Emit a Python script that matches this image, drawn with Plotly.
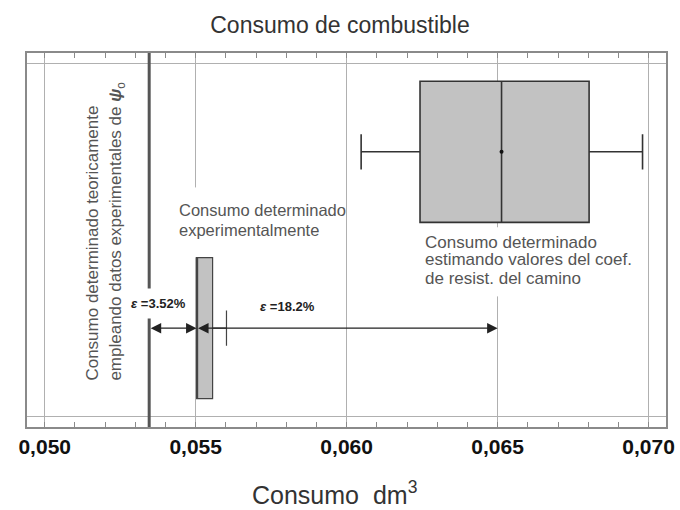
import plotly.graph_objects as go

# ---- data ----
tick_vals = [0.050, 0.055, 0.060, 0.065, 0.070]
tick_text = ["0,050", "0,055", "0,060", "0,065", "0,070"]

teorico = 0.05346                     # consumo teórico (línea vertical gruesa)

exp_q1 = [0.05503]                    # consumo experimental (caja pequeña)
exp_med = [0.05503]
exp_q3 = [0.05556]
exp_low = [0.05503]
exp_high = [0.05602]

est_q1 = [0.06243]                    # consumo estimado (caja grande)
est_med = [0.06513]
est_q3 = [0.06803]
est_low = [0.06048]
est_high = [0.06980]
est_mean = [0.06513]

err_end = 0.065
err_labels = ["<i>ε</i> =3.52%", "<i>ε</i> =18.2%"]

FONT = "Liberation Sans, Arial, sans-serif"
TXT = "#555555"

fig = go.Figure()

fig.add_trace(go.Scatter(x=[teorico, teorico], y=[-0.0303, 1.0301], mode="lines",
                         line=dict(color="#555555", width=3), hoverinfo="skip"))

fig.add_trace(go.Box(y=[0.75], q1=est_q1, median=est_med, q3=est_q3,
                     lowerfence=est_low, upperfence=est_high,
                     orientation="h", width=0.4, whiskerwidth=0.25,
                     fillcolor="#c2c2c2", line=dict(color="#333333", width=1.6)))
fig.add_trace(go.Box(y=[0.25], q1=exp_q1, median=exp_med, q3=exp_q3,
                     lowerfence=exp_low, upperfence=exp_high,
                     orientation="h", width=0.4, whiskerwidth=0.25,
                     fillcolor="#c2c2c2", line=dict(color="#444444", width=1.2)))
fig.add_trace(go.Scatter(x=est_mean, y=[0.75], mode="markers",
                         marker=dict(color="#111111", size=4), hoverinfo="skip"))

# white gaps in the gridlines behind the texts
fig.add_shape(type="rect", xref="x", yref="y", x0=0.0549, x1=0.0551, y0=0.451, y1=0.649,
              fillcolor="white", line=dict(width=0), layer="between")
fig.add_shape(type="rect", xref="x", yref="y", x0=0.0649, x1=0.0651, y0=0.34, y1=0.536,
              fillcolor="white", line=dict(width=0), layer="between")

# arrows
arrow_common = dict(text="", showarrow=True, axref="x", ayref="y", xref="x", yref="y",
                    arrowside="end+start", arrowhead=2, startarrowhead=2,
                    arrowsize=1.5, startarrowsize=1.5, arrowwidth=1.4, arrowcolor="#222222",
                    standoff=0, startstandoff=0)
fig.add_annotation(x=exp_q1[0], y=0.25, ax=teorico, ay=0.25, **arrow_common)
fig.add_annotation(x=err_end, y=0.25, ax=exp_q1[0], ay=0.25, **arrow_common)

# error labels
fig.add_annotation(x=0.053779, y=0.3204, text="<b>" + err_labels[0] + "</b>", showarrow=False,
                   font=dict(family=FONT, size=13, color="#222222"), bgcolor="white", borderpad=7)
fig.add_annotation(x=0.058056, y=0.3119, text="<b>" + err_labels[1] + "</b>", showarrow=False,
                   font=dict(family=FONT, size=13, color="#222222"))

# rotated text
fig.add_annotation(x=0.051591, y=0.0964, text="Consumo determinado teoricamente", textangle=-90,
                   showarrow=False, xanchor="center", yanchor="bottom",
                   font=dict(family=FONT, size=17, color=TXT))
fig.add_annotation(x=0.052387, y=0.0964,
                   text="empleando datos experimentales de <b><i>ψ</i></b><sub>o</sub>", textangle=-90,
                   showarrow=False, xanchor="center", yanchor="bottom",
                   font=dict(family=FONT, size=17, color=TXT))

# experimental text
for txt, yy in [("Consumo determinado", 0.5841), ("experimentalmente", 0.5274)]:
    fig.add_annotation(x=0.054366, y=yy, text=txt, showarrow=False, xanchor="left", yanchor="middle",
                       font=dict(family=FONT, size=16.5, color=TXT))

# estimated text
for txt, yy in [("Consumo determinado", 0.4934), ("estimando valores del coef.", 0.4452),
                ("de resist. del camino", 0.3913)]:
    fig.add_annotation(x=0.062531, y=yy, text=txt, showarrow=False, xanchor="left", yanchor="middle",
                       font=dict(family=FONT, size=17, color=TXT))

# x-axis title (placed slightly left of centre, as in the reference)
fig.add_annotation(xref="paper", yref="paper", x=0.482, y=-0.176, xanchor="center", yanchor="middle",
                   text="Consumo\u00a0\u00a0dm<sup>3</sup>", showarrow=False,
                   font=dict(family=FONT, size=25, color="#333333"))

fig.update_layout(
    width=680, height=510,
    margin=dict(l=27, r=14, t=53, b=83, autoexpand=False),
    paper_bgcolor="white", plot_bgcolor="white",
    showlegend=False,
    title=dict(text="Consumo de combustible", x=0.5, xanchor="center", y=0.951, yanchor="middle",
               font=dict(family=FONT, size=23, color="#333333")),
    xaxis=dict(range=[0.049413, 0.070577], tickvals=tick_vals, ticktext=tick_text,
               automargin=False,
               showgrid=True, gridcolor="#b0b0b0", gridwidth=1, zeroline=False,
               showline=True, mirror="ticks", linecolor="#8a8a8a", linewidth=1.5,
               ticks="inside", ticklen=5, tickcolor="#8a8a8a",
               minor=dict(dtick=0.001, tick0=0.05, ticks="inside", ticklen=5, tickcolor="#8a8a8a",
                          showgrid=False),
               ticklabelstandoff=0,
               tickfont=dict(family=FONT, size=21, color="#111111", weight="bold")),
    yaxis=dict(range=[-0.0303, 1.0301], tickvals=[0, 1], showticklabels=False, automargin=False,
               showgrid=True, gridcolor="#b0b0b0", gridwidth=1, zeroline=False,
               showline=True, mirror=True, linecolor="#8a8a8a", linewidth=1.5, ticks=""),
)

fig.write_html("out.html", config={"displayModeBar": False},
               post_script="document.body.style.margin='0px';")
